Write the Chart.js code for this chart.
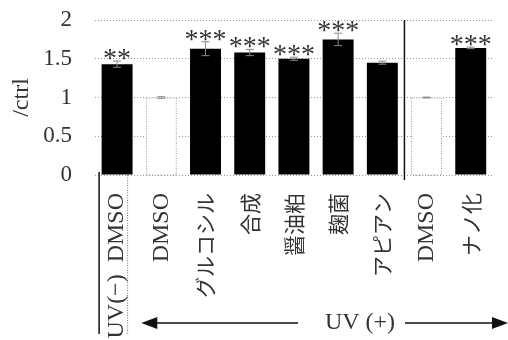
<!DOCTYPE html>
<html>
<head>
<meta charset="utf-8">
<script src="https://cdn.jsdelivr.net/npm/chart.js@4.4.1/dist/chart.umd.min.js"></script>
<style>
  html, body { margin: 0; padding: 0; background: #fff; overflow: hidden; }
</style>
</head>
<body>
<canvas id="chart" width="514" height="340"></canvas>
<script>
// values (relative to ctrl)
const labels = ['UV(−)  DMSO', 'DMSO', 'グルコシル', '合成', '醤油粕', '麹菌', 'アピアン', 'DMSO', 'ナノ化'];
const values = [1.43, 1.0, 1.63, 1.58, 1.50, 1.75, 1.45, 1.0, 1.64];
const errors = [0.04, 0.01, 0.09, 0.04, 0.02, 0.08, 0.02, 0.005, 0.01];
const stars = ['**', '', '***', '***', '***', '***', '', '', '***'];
const yTicks = [0, 0.5, 1, 1.5, 2];
const controls = [1, 7]; // DMSO bars drawn open

const serif = "'Liberation Serif', 'Times New Roman', serif";
const jp = "'Noto Sans CJK JP', sans-serif";
const ink = '#333';

const fills = labels.map((l, i) => controls.includes(i) ? '#fff' : '#000');

// error bars, stars and the hand-drawn bits under the axis
const extras = {
  id: 'extras',
  afterDatasetsDraw(chart) {
    const ctx = chart.ctx;
    const y = chart.scales.y;
    const area = chart.chartArea;
    const bars = chart.getDatasetMeta(0).data;
    ctx.save();

    // dotted outline for open bars
    controls.forEach(i => {
      const b = bars[i];
      ctx.strokeStyle = '#999';
      ctx.lineWidth = 1;
      ctx.setLineDash([1, 1.5]);
      ctx.strokeRect(b.x - b.width / 2 + 0.5, b.y + 0.5, b.width - 1, b.base - b.y);
    });
    ctx.setLineDash([]);

    bars.forEach((b, i) => {
      const top = y.getPixelForValue(values[i] + errors[i]);
      const bot = y.getPixelForValue(values[i] - errors[i]);
      ctx.strokeStyle = '#888';
      ctx.lineWidth = 1;
      ctx.beginPath();
      ctx.moveTo(b.x, top); ctx.lineTo(b.x, bot);
      ctx.moveTo(b.x - 4, top); ctx.lineTo(b.x + 4, top);
      ctx.moveTo(b.x - 4, bot); ctx.lineTo(b.x + 4, bot);
      ctx.stroke();

      if (stars[i]) {
        ctx.fillStyle = ink;
        ctx.font = '28px ' + serif;
        ctx.textAlign = 'center';
        ctx.textBaseline = 'alphabetic';
        ctx.fillText(stars[i], b.x, top + 6);
      }
    });

    // separator between the two groups
    const sepX = (bars[6].x + bars[7].x) / 2;
    ctx.strokeStyle = '#111';
    ctx.lineWidth = 1.5;
    ctx.beginPath();
    ctx.moveTo(sepX, area.top);
    ctx.lineTo(sepX, area.bottom + 5);
    ctx.stroke();

    // UV(-) box lines
    const x0 = bars[0].x;
    ctx.beginPath();
    ctx.moveTo(x0 - 18, area.bottom - 3);
    ctx.lineTo(x0 - 18, 334);
    ctx.stroke();
    ctx.strokeStyle = '#777';
    ctx.lineWidth = 1;
    ctx.setLineDash([1, 1.5]);
    ctx.beginPath();
    ctx.moveTo(x0 + 10.5, area.bottom);
    ctx.lineTo(x0 + 10.5, 334);
    ctx.stroke();
    ctx.setLineDash([]);

    // UV(+) arrow
    const ay = 323;
    const left = bars[1].x - 20, right = 508;
    ctx.strokeStyle = '#111';
    ctx.fillStyle = '#111';
    ctx.lineWidth = 1.5;
    ctx.beginPath();
    ctx.moveTo(left + 10, ay); ctx.lineTo(298, ay);
    ctx.moveTo(405, ay); ctx.lineTo(right - 10, ay);
    ctx.stroke();
    ctx.beginPath();
    ctx.moveTo(left, ay); ctx.lineTo(left + 16, ay - 6); ctx.lineTo(left + 16, ay + 6); ctx.closePath();
    ctx.moveTo(right, ay); ctx.lineTo(right - 16, ay - 6); ctx.lineTo(right - 16, ay + 6); ctx.closePath();
    ctx.fill();
    ctx.fillStyle = ink;
    ctx.font = '24px ' + serif;
    ctx.textAlign = 'center';
    ctx.textBaseline = 'middle';
    ctx.fillText('UV (+)', 360, ay);

    ctx.restore();
  }
};

new Chart(document.getElementById('chart'), {
  type: 'bar',
  data: {
    labels: labels,
    datasets: [{
      data: values,
      backgroundColor: fills,
      borderWidth: 0,
      barPercentage: 0.7,
      categoryPercentage: 1.0
    }]
  },
  options: {
    responsive: false,
    devicePixelRatio: 1,
    animation: false,
    layout: { padding: { top: 0, right: 1, left: 0, bottom: 0 } },
    plugins: { legend: { display: false }, tooltip: { enabled: false } },
    scales: {
      x: {
        grid: { display: false, drawTicks: false },
        border: { display: false },
        ticks: {
          autoSkip: false,
          minRotation: 90,
          maxRotation: 90,
          padding: 18,
          color: ink,
          font: c => /[A-Z]/.test(labels[c.index]) ? { family: serif, size: 24 } : { family: jp, size: 21 }
        },
        afterFit: s => { s.height = 165; }
      },
      y: {
        min: 0,
        max: 2,
        afterBuildTicks: s => { s.ticks = yTicks.map(v => ({ value: v })); },
        grid: { color: '#999', lineWidth: 1, drawTicks: false },
        border: { display: false, dash: [1, 2] },
        ticks: { padding: 23, color: ink, font: { family: serif, size: 23 }, callback: v => String(v) },
        title: { display: true, text: '/ctrl', color: ink, font: { family: serif, size: 24 }, padding: { top: 7, bottom: 0 } },
        afterFit: s => { s.width = 95; s.paddingTop = 20; s.paddingBottom = 0; }
      }
    }
  },
  plugins: [extras]
});
</script>
</body>
</html>
